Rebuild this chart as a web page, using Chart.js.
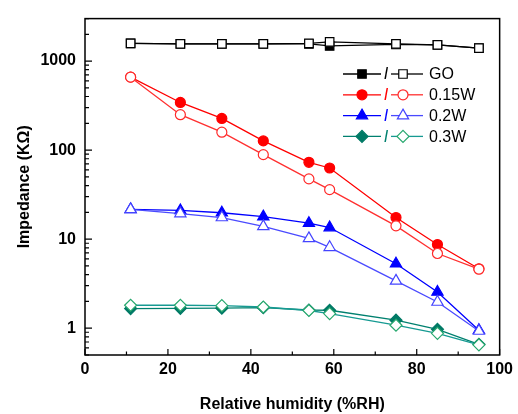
<!DOCTYPE html>
<html>
<head>
<meta charset="utf-8">
<script src="https://cdn.jsdelivr.net/npm/chart.js@4/dist/chart.umd.min.js"></script>
<style>
html,body{margin:0;padding:0;background:#fff;}
#wrap{width:518px;height:414px;}
</style>
</head>
<body>
<div id="wrap"><canvas id="c" width="518" height="414"></canvas></div>
<script>
// ---- data ----
const humidity = [11, 23, 33, 43, 54, 59, 75, 85, 95];
const seriesNames = ['GO', '0.15W', '0.2W', '0.3W'];
const goFilled   = [1580, 1560, 1560, 1560, 1560, 1480, 1540, 1520, 1400];
const goOpen     = [1580, 1560, 1560, 1560, 1580, 1640, 1560, 1520, 1400];
const w015Filled = [660, 343, 227, 127, 73, 63, 17.5, 8.7, 4.65];
const w015Open   = [660, 250, 159, 89, 47.5, 36, 14.1, 6.9, 4.6];
const w02Filled  = [21.6, 21, 19.8, 17.9, 15.1, 13.5, 5.3, 2.55, 0.95];
const w02Open    = [21.6, 19.4, 17.5, 13.9, 10.2, 8.1, 3.4, 1.97, 0.93];
const w03Filled  = [1.66, 1.67, 1.68, 1.7, 1.6, 1.59, 1.23, 0.97, 0.66];
const w03Open    = [1.81, 1.81, 1.79, 1.73, 1.58, 1.46, 1.08, 0.875, 0.65];
const xMajorTicks = [0, 20, 40, 60, 80, 100];
const xMinorTicks = [10, 30, 50, 70, 90];
const yMajorTicks = [1, 10, 100, 1000];

const styles = [
  {line:'#000000', fill:'#000000', open:'#000000', openLine:'#000000', shape:'rect', r:6},
  {line:'#ff0000', fill:'#ff0000', open:'#ff2a2a', openLine:'#ff3030', shape:'circle', r:5},
  {line:'#0000ff', fill:'#0000ff', open:'#4444ff', openLine:'#4a4aff', shape:'triangle', r:6.5},
  {line:'#00806f', fill:'#007a66', open:'#27a86e', openLine:'#169a92', shape:'rectRot', r:6}
];
const filledSets = [goFilled, w015Filled, w02Filled, w03Filled];
const openSets = [goOpen, w015Open, w02Open, w03Open];

const toXY = arr => arr.map((v, i) => ({x: humidity[i], y: v}));
const datasets = [];
seriesNames.forEach((name, k) => {
  const s = styles[k];
  datasets.push({
    label: name + ' filled', data: toXY(filledSets[k]), order: 2,
    borderColor: s.line, backgroundColor: s.fill, borderWidth: 1.3,
    pointStyle: s.shape, pointRadius: s.r, pointBorderColor: s.fill,
    pointBackgroundColor: s.fill, pointBorderWidth: 1.2, tension: 0
  });
  datasets.push({
    label: name + ' open', data: toXY(openSets[k]), order: 1,
    borderColor: s.openLine, backgroundColor: '#ffffff', borderWidth: 1.3,
    pointStyle: s.shape, pointRadius: s.r, pointBorderColor: s.open,
    pointBackgroundColor: '#ffffff', pointBorderWidth: 1.2, tension: 0
  });
});

// minor log ticks
function logMinor(min, max) {
  const out = [];
  for (let e = -1; e <= 4; e++) {
    for (let m = 1; m <= 9; m++) {
      const v = m * Math.pow(10, e);
      if (v >= min - 1e-9 && v <= max + 1e-9 && !yMajorTicks.includes(v)) out.push(+v.toPrecision(3));
    }
  }
  return out;
}

const framePlugin = {
  id: 'frame',
  afterDatasetsDraw(chart) {
    const {ctx, chartArea: a, scales} = chart;
    ctx.save();
    ctx.strokeStyle = '#000';
    ctx.lineWidth = 1.5;
    ctx.strokeRect(a.left, a.top, a.right - a.left, a.bottom - a.top);
    ctx.lineWidth = 1.2;
    ctx.beginPath();
    xMajorTicks.forEach(v => { const x = scales.x.getPixelForValue(v); ctx.moveTo(x, a.bottom); ctx.lineTo(x, a.bottom - 6); });
    xMinorTicks.forEach(v => { const x = scales.x.getPixelForValue(v); ctx.moveTo(x, a.bottom); ctx.lineTo(x, a.bottom - 3.5); });
    yMajorTicks.forEach(v => { const y = scales.y.getPixelForValue(v); ctx.moveTo(a.left, y); ctx.lineTo(a.left + 7, y); });
    logMinor(scales.y.min, scales.y.max).forEach(v => { const y = scales.y.getPixelForValue(v); ctx.moveTo(a.left, y); ctx.lineTo(a.left + 4, y); });
    ctx.stroke();

    // legend
    const lx = 343, ly0 = 74, step = 20.8;
    seriesNames.forEach((name, k) => {
      const s = styles[k];
      const y = ly0 + k * step;
      ctx.lineWidth = 1.3;
      ctx.strokeStyle = s.line;
      ctx.beginPath(); ctx.moveTo(lx, y); ctx.lineTo(lx + 38, y); ctx.stroke();
      ctx.strokeStyle = s.openLine;
      ctx.beginPath(); ctx.moveTo(lx + 48, y); ctx.lineTo(lx + 80, y); ctx.stroke();
      ctx.fillStyle = s.fill; ctx.strokeStyle = s.fill; ctx.lineWidth = 1.2;
      Chart.helpers.drawPoint(ctx, {pointStyle: s.shape, radius: s.r, rotation: 0, borderWidth: 1.2}, lx + 19, y);
      ctx.fillStyle = '#ffffff'; ctx.strokeStyle = s.open;
      Chart.helpers.drawPoint(ctx, {pointStyle: s.shape, radius: s.r, rotation: 0, borderWidth: 1.2}, lx + 60, y);
      ctx.font = 'italic 16px "Liberation Sans", Arial, sans-serif';
      ctx.textAlign = 'center'; ctx.textBaseline = 'middle';
      ctx.fillStyle = '#ffffff';
      ctx.fillRect(lx + 38, y - 8, 10, 16);
      ctx.fillStyle = s.line;
      ctx.fillText('I', lx + 43, y + 1);
      ctx.fillStyle = '#000';
      ctx.font = '16px "Liberation Sans", Arial, sans-serif';
      ctx.textAlign = 'left';
      ctx.fillText(name, lx + 86, y + 1);
    });
    ctx.restore();
  }
};

new Chart(document.getElementById('c'), {
  type: 'line',
  data: {datasets},
  plugins: [framePlugin],
  options: {
    responsive: false,
    devicePixelRatio: 1,
    animation: false,
    layout: {padding: {left: 0, top: 16, right: 15, bottom: 0}},
    plugins: {legend: {display: false}, tooltip: {enabled: false}},
    scales: {
      x: {
        type: 'linear', min: 0, max: 100,
        afterBuildTicks: sc => { sc.ticks = xMajorTicks.map(v => ({value: v})); },
        afterFit: sc => { sc.height = 59; },
        grid: {display: false, drawTicks: false},
        border: {display: false},
        ticks: {padding: 5, color: '#000', font: {family: '"Liberation Sans", Arial, sans-serif', size: 16, weight: 'bold'}, maxRotation: 0},
        title: {display: true, text: 'Relative humidity (%RH)', color: '#000', padding: {top: 0, bottom: 0},
          font: {family: '"Liberation Sans", Arial, sans-serif', size: 16, weight: 'bold'}}
      },
      y: {
        type: 'logarithmic', min: 0.5, max: 3000,
        afterBuildTicks: sc => { sc.ticks = yMajorTicks.map(v => ({value: v})); },
        afterFit: sc => { sc.width = 85; },
        grid: {display: false, drawTicks: false},
        border: {display: false},
        ticks: {padding: 9, color: '#000', font: {family: '"Liberation Sans", Arial, sans-serif', size: 16, weight: 'bold'},
          callback: v => String(v)},
        title: {display: true, text: 'Impedance (KΩ)', color: '#000', padding: {top: 15, bottom: 0},
          font: {family: '"Liberation Sans", Arial, sans-serif', size: 16, weight: 'bold'}}
      }
    }
  }
});
</script>
</body>
</html>
